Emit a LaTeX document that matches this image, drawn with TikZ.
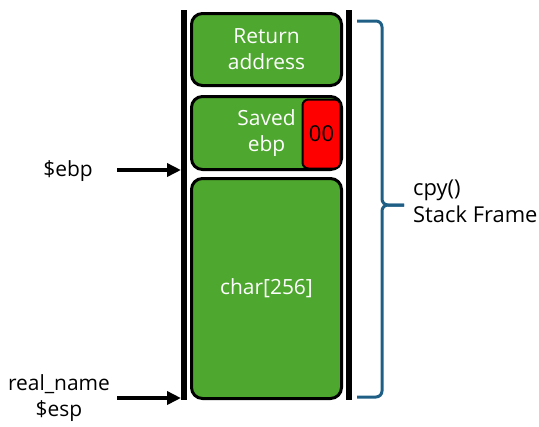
\documentclass[tikz,border=0pt]{standalone}
\usepackage{fontspec}
\setmainfont{Open Sans}
\usetikzlibrary{arrows.meta,positioning}
\definecolor{SlotClr}{HTML}{4EA72E}
\definecolor{CanaryClr}{HTML}{FF0000}
\definecolor{BraceClr}{HTML}{1F5F86}

\begin{document}
\begin{tikzpicture}[x=1bp,y=-1bp,
  txt/.style={font=\fontsize{21}{26}\selectfont,align=center,inner sep=0pt},
  slot/.style={txt,draw=black,line width=3bp,fill=SlotClr,text=white,rounded corners=11bp,minimum width=150bp},
  canary/.style={txt,font=\fontsize{22}{26}\selectfont,draw=black,line width=2bp,fill=CanaryClr,text=black,rounded corners=6bp,minimum width=38bp,minimum height=69bp},
  wall/.style={line width=6bp,black},
  ptr/.style={line width=3.5bp,-{Triangle[length=14bp,width=13bp]}},
  brace/.style={line width=3bp,BraceClr,rounded corners=6bp}]
\useasboundingbox (0,0) rectangle (539,426);

\draw[wall] (183.5,10) -- (183.5,400);
\draw[wall] (349,10) -- (349,400);
\coordinate (lwall) at (181,0);

\node[slot,minimum height=72bp] (ret) at (266.5,49.5) {Return\\address};
\node[slot,minimum height=73bp] (saved) at (266.5,133) {Saved\\ebp};
\node[canary,anchor=east] (canary) at ([xshift=-1.5bp,yshift=-1bp]saved.east) {00};
\node[slot,minimum height=220bp] (buf) at (266.5,288.5) {char[256]};

\node[txt] (ebp) at (68,171) {\$ebp};
\node[txt] (esp) at (59,398) {real\_name\\\$esp};
\coordinate (ebp tail) at (117,170);
\coordinate (esp tail) at (117,398);
\draw[ptr] (ebp tail) -- (ebp tail -| lwall);
\draw[ptr] (esp tail) -- (esp tail -| lwall);

\draw[brace] (357,21) -| (382,205) -- (404,205);
\draw[brace] (357,397) -| (382,205) -- (404,205);
\node[txt,font=\fontsize{22}{27}\selectfont,align=left,anchor=west] (frame) at (413,201) {cpy()\\Stack Frame};
\end{tikzpicture}
\end{document}
